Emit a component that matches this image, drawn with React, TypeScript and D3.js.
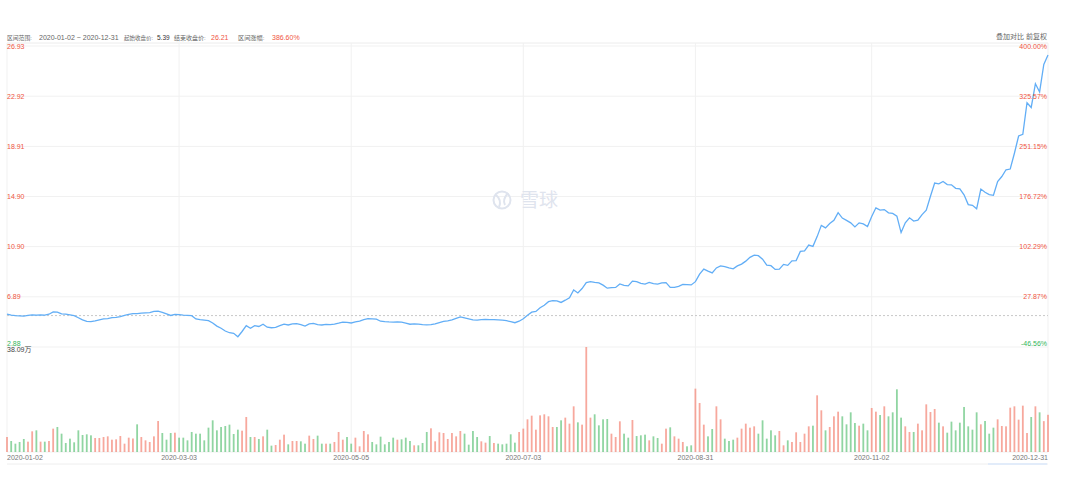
import React from 'react';
import * as d3 from 'd3';

// HK market holidays (weekdays) in 2020, used to build the trading calendar
const holidays = [
  '2020-01-01', '2020-01-27', '2020-01-28', '2020-04-10', '2020-04-13', '2020-04-30',
  '2020-05-01', '2020-06-25', '2020-07-01', '2020-10-01', '2020-10-02', '2020-10-26', '2020-12-25',
];

const closes = [
  5.50, 5.42, 5.38, 5.36, 5.34, 5.40, 5.44, 5.42, 5.45, 5.43,
  5.50, 5.68, 5.66, 5.52, 5.50, 5.44, 5.38, 5.22, 5.05, 4.92,
  4.90, 4.96, 5.05, 5.12, 5.15, 5.22, 5.24, 5.30, 5.40, 5.48,
  5.55, 5.54, 5.58, 5.60, 5.62, 5.72, 5.74, 5.64, 5.52, 5.40,
  5.48, 5.46, 5.42, 5.40, 5.38, 5.12, 5.06, 5.02, 4.98, 4.80,
  4.55, 4.38, 4.16, 4.02, 3.97, 3.70, 4.12, 4.58, 4.38, 4.58,
  4.52, 4.70, 4.46, 4.42, 4.45, 4.58, 4.70, 4.64, 4.72, 4.74,
  4.66, 4.55, 4.72, 4.76, 4.66, 4.64, 4.68, 4.66, 4.71, 4.78,
  4.86, 4.84, 4.80, 4.88, 4.95, 5.06, 5.14, 5.12, 5.10, 4.94,
  4.90, 4.88, 4.87, 4.88, 4.86, 4.78, 4.70, 4.72, 4.70, 4.66,
  4.64, 4.66, 4.72, 4.82, 4.92, 4.96, 5.04, 5.16, 5.28, 5.20,
  5.12, 5.04, 5.02, 5.06, 5.08, 5.06, 5.07, 5.05, 5.02, 4.98,
  4.90, 4.82, 4.94, 5.14, 5.42, 5.66, 5.72, 6.02, 6.22, 6.50,
  6.58, 6.56, 6.44, 6.62, 6.82, 7.44, 7.20, 7.55, 8.02, 8.10,
  8.04, 8.00, 7.82, 7.58, 7.62, 7.64, 7.92, 7.80, 7.76, 8.14,
  8.10, 7.96, 7.90, 8.04, 7.94, 7.90, 8.00, 8.02, 7.64, 7.64,
  7.72, 7.88, 7.86, 7.84, 8.10, 8.70, 9.10, 8.94, 8.80, 9.20,
  9.36, 9.30, 9.20, 9.12, 9.36, 9.50, 9.74, 10.04, 10.22, 10.18,
  9.90, 9.42, 9.38, 9.08, 9.10, 9.48, 9.40, 9.76, 9.78, 10.52,
  10.56, 11.02, 10.92, 11.70, 12.60, 12.40, 12.74, 13.00, 13.62, 13.18,
  13.00, 12.80, 12.48, 12.80, 12.72, 12.50, 13.30, 14.00, 13.82, 13.86,
  13.60, 13.55, 13.34, 12.02, 12.80, 13.20, 12.94, 13.02, 13.46, 13.82,
  14.92, 15.98, 15.92, 16.10, 15.86, 15.84, 15.56, 15.52, 15.04, 14.26,
  14.20, 13.92, 15.50, 15.24, 15.06, 15.00, 16.10, 16.50, 17.04, 17.10,
  18.36, 19.74, 19.88, 22.40, 22.02, 23.92, 23.26, 25.46, 26.21,
];

// volume in 万
const volumes = [
  5.44, 3.99, 3.02, 3.63, 4.72, 3.75, 7.50, 7.86, 3.75, 3.75,
  3.99, 8.47, 9.07, 6.65, 3.27, 4.84, 3.51, 7.86, 6.17, 6.41,
  6.05, 5.08, 5.08, 5.44, 5.68, 4.47, 4.60, 5.80, 3.02, 5.20,
  4.90, 10.04, 5.44, 4.23, 3.63, 5.68, 11.25, 6.89, 4.47, 6.89,
  7.01, 5.20, 5.20, 4.23, 7.26, 6.65, 6.65, 4.23, 8.83, 11.49,
  7.86, 9.07, 9.43, 9.92, 6.53, 8.10, 7.74, 12.70, 5.44, 5.44,
  4.72, 5.68, 8.10, 2.30, 2.54, 4.47, 6.29, 2.78, 3.99, 3.99,
  3.87, 3.02, 5.93, 4.72, 5.93, 3.02, 3.02, 3.02, 3.63, 7.26,
  4.47, 5.44, 3.02, 5.20, 2.06, 7.62, 6.41, 3.63, 2.78, 5.56,
  2.78, 3.63, 5.20, 4.47, 4.60, 5.20, 3.99, 2.42, 2.42, 3.27,
  7.26, 8.59, 3.87, 7.14, 6.89, 4.72, 6.89, 5.68, 7.62, 6.65,
  2.66, 7.62, 5.44, 3.87, 3.39, 5.80, 3.27, 3.02, 2.78, 3.02,
  6.41, 3.39, 7.26, 8.47, 11.85, 13.18, 8.10,
  13.30, 13.67, 12.94, 9.07, 9.07, 11.49, 12.46, 10.28, 16.57, 10.76,
  9.92, 38.09, 12.46, 13.67, 9.67, 11.85, 11.97, 6.65, 5.44, 11.13,
  6.65, 5.20, 11.61, 5.80, 6.05, 6.29, 4.23, 5.68, 5.08, 3.02,
  8.47, 8.95, 5.68, 4.84, 3.63, 2.06, 2.42, 22.98, 17.78, 9.92,
  5.68, 8.34, 16.57, 11.85, 4.84, 3.99, 4.47, 5.20, 8.47, 10.28,
  8.83, 9.31, 6.65, 11.49, 4.84, 7.86, 6.05, 7.62, 2.42, 4.23,
  3.63, 7.14, 3.63, 6.65, 9.31, 9.55, 20.56, 15.12, 7.86, 9.07,
  12.94, 14.63, 12.94, 10.04, 14.39, 10.52, 9.55, 10.28, 7.86, 15.96,
  14.63, 13.42, 16.57, 12.94, 14.39, 22.74, 12.46, 9.31, 7.26, 7.26,
  10.28, 7.86, 17.29, 14.51, 15.60, 10.64, 9.31, 7.01, 11.01, 7.86,
  10.64, 16.33, 9.31, 8.10, 14.39, 10.04, 11.25, 6.65, 8.83, 11.85,
  9.43, 9.31, 16.08, 16.57, 11.73, 16.81, 6.89, 12.70, 16.57, 14.39,
  11.20, 13.50,
];

const startClose = 5.39;
const priceTicks = [26.93, 22.92, 18.91, 14.90, 10.90, 6.89, 2.88];
const pctTicks = ['400.00%', '325.57%', '251.15%', '176.72%', '102.29%', '27.87%', '-46.56%'];
const dateTicks = ['2020-01-02', '2020-03-03', '2020-05-05', '2020-07-03', '2020-08-31', '2020-11-02', '2020-12-31'];
const volMaxLabel = '38.09万';

const fmt = d3.timeFormat('%Y-%m-%d');
const dates = d3.timeDay
  .range(new Date(2020, 0, 1), new Date(2021, 0, 1))
  .filter(d => d.getDay() !== 0 && d.getDay() !== 6 && !holidays.includes(fmt(d)))
  .map(fmt);

const W = 1080;
const H = 484;
const left = 7;
const right = 1048;
const font = '"Liberation Sans", Arial, "Noto Sans CJK SC", sans-serif';
const RED = '#f0553f';
const GREEN = '#33b55a';

const App: React.FC = () => {
  const x = d3.scaleLinear().domain([0, dates.length - 1]).range([left, right]);
  const y = d3.scaleLinear().domain([2.88, 26.93]).range([347, 46]);
  const yv = d3.scaleLinear().domain([0, 38.09]).range([452, 347]);

  const line = d3.line<number>()
    .x((_, i) => x(i))
    .y(d => y(d));

  const tickIdx = dateTicks.map(t => dates.indexOf(t));

  return (
    <svg width={W} height={H} style={{ position: 'absolute', left: 0, top: 0, background: '#fff' }}
      fontFamily={font}>
      {/* header */}
      <g fontSize={7} fill="#666">
        <text x={7} y={40} fontSize={5.8}>区间范围:</text>
        <text x={39} y={40}>2020-01-02 ~ 2020-12-31</text>
        <text x={124} y={40} fontSize={5.5}>起始收盘价:</text>
        <text x={157} y={40} fill="#333" fontSize={6.5}>5.39</text>
        <text x={174} y={40} fontSize={6}>结束收盘价:</text>
        <text x={211} y={40} fill={RED}>26.21</text>
        <text x={238} y={40} fontSize={6.2}>区间涨幅:</text>
        <text x={272} y={40} fill={RED}>386.60%</text>
        <text x={1047} y={39} textAnchor="end">叠加对比  前复权</text>
      </g>

      {/* frame and grid */}
      <line x1={left} x2={right} y1={43} y2={43} stroke="#ececec" />
      {priceTicks.map((t, i) => (
        <line key={'g' + i} x1={left} x2={right} y1={y(t)} y2={y(t)} stroke="#f1f1f1" />
      ))}
      <line x1={left} x2={right} y1={452} y2={452} stroke="#f1f1f1" />
      <line x1={left} x2={right} y1={464} y2={464} stroke="#eeeeee" />
      {tickIdx.map((k, i) => (
        <line key={'v' + i} x1={x(k)} x2={x(k)} y1={43} y2={452} stroke="#f1f1f1" />
      ))}
      <line x1={988} x2={1047} y1={464} y2={464} stroke="#dbe8fb" strokeWidth={1.5} />

      {/* watermark */}
      <g stroke="#dfe4ee" fill="none" strokeWidth={2}>
        <circle cx={502} cy={200} r={8.5} />
        <path d="M496,195 Q502,200 499,207" />
        <path d="M508,193 Q502,200 505,205" />
      </g>
      <text x={520} y={207} fontSize={19} fill="#dfe4ee" fontFamily='"Noto Sans CJK SC", sans-serif'>雪球</text>

      {/* start price reference */}
      <line x1={left} x2={right} y1={y(startClose)} y2={y(startClose)} stroke="#c8c8c8"
        strokeDasharray="2,2" />

      {/* volume bars */}
      {volumes.map((v, i) => {
        const prev = i === 0 ? startClose : closes[i - 1];
        const up = closes[i] >= prev;
        return (
          <rect key={'b' + i} x={x(i) - 0.9} width={1.8} y={yv(v)} height={yv(0) - yv(v)}
            fill={up ? '#f27a69' : '#55bf70'} fillOpacity={0.65} />
        );
      })}

      {/* price line */}
      <path d={line(closes) || ''} fill="none" stroke="#62aef6" strokeWidth={1.3} />

      {/* axis labels */}
      <g fontSize={7}>
        {priceTicks.map((t, i) => (
          <text key={'l' + i} x={7} y={i === priceTicks.length - 1 ? y(t) - 1.5 : y(t) + 2.5}
            fill={t < startClose ? GREEN : RED}>{t.toFixed(2)}</text>
        ))}
        {pctTicks.map((t, i) => (
          <text key={'r' + i} x={1047} textAnchor="end"
            y={i === pctTicks.length - 1 ? y(priceTicks[i]) - 1.5 : y(priceTicks[i]) + 2.5}
            fill={t.startsWith('-') ? GREEN : RED}>{t}</text>
        ))}
        <text x={7} y={352} fill="#444">{volMaxLabel}</text>
      </g>

      {/* date axis */}
      <g fontSize={7} fill="#777">
        {tickIdx.map((k, i) => (
          <text key={'d' + i} x={x(k)} y={460}
            textAnchor={i === 0 ? 'start' : i === tickIdx.length - 1 ? 'end' : 'middle'}>
            {dateTicks[i]}
          </text>
        ))}
      </g>
    </svg>
  );
};

export default App;
